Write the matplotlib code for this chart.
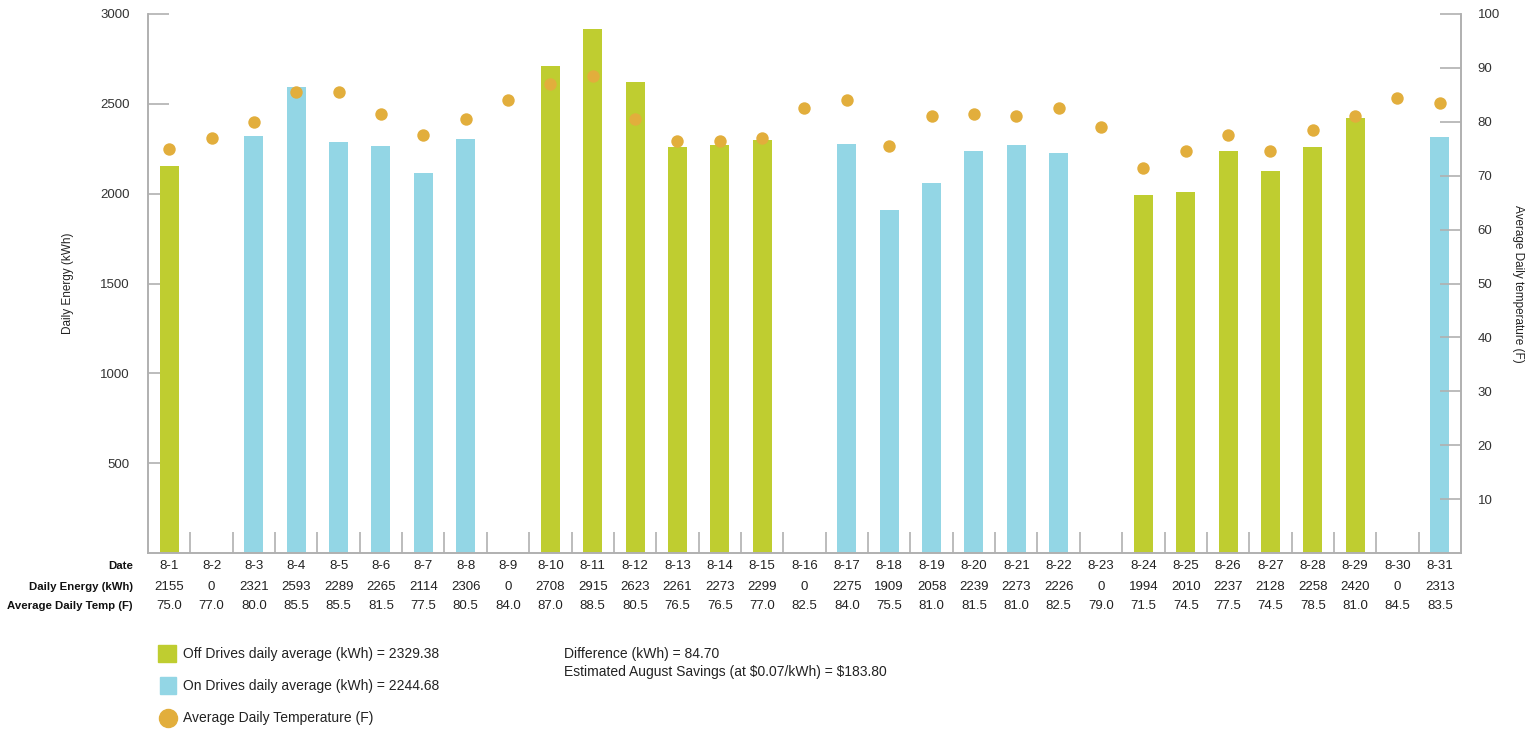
import matplotlib
matplotlib.use("Agg")
import matplotlib.pyplot as plt
from matplotlib.patches import Rectangle
from matplotlib.lines import Line2D
from matplotlib.transforms import blended_transform_factory

dates = ["8-1", "8-2", "8-3", "8-4", "8-5", "8-6", "8-7", "8-8", "8-9", "8-10",
         "8-11", "8-12", "8-13", "8-14", "8-15", "8-16", "8-17", "8-18", "8-19", "8-20",
         "8-21", "8-22", "8-23", "8-24", "8-25", "8-26", "8-27", "8-28", "8-29", "8-30", "8-31"]
energy = [2155, 0, 2321, 2593, 2289, 2265, 2114, 2306, 0, 2708,
          2915, 2623, 2261, 2273, 2299, 0, 2275, 1909, 2058, 2239,
          2273, 2226, 0, 1994, 2010, 2237, 2128, 2258, 2420, 0, 2313]
temps = [75.0, 77.0, 80.0, 85.5, 85.5, 81.5, 77.5, 80.5, 84.0, 87.0,
         88.5, 80.5, 76.5, 76.5, 77.0, 82.5, 84.0, 75.5, 81.0, 81.5,
         81.0, 82.5, 79.0, 71.5, 74.5, 77.5, 74.5, 78.5, 81.0, 84.5, 83.5]
# drive state per day: "off" (green), "on" (blue), "" (no data)
state = ["off", "", "on", "on", "on", "on", "on", "on", "", "off",
         "off", "off", "off", "off", "off", "", "on", "on", "on", "on",
         "on", "on", "", "off", "off", "off", "off", "off", "off", "", "on"]
left_ticks = [500, 1000, 1500, 2000, 2500, 3000]
right_ticks = [10, 20, 30, 40, 50, 60, 70, 80, 90, 100]
legend_labels = ["Off Drives daily average (kWh) = 2329.38",
                 "On Drives daily average (kWh) = 2244.68",
                 "Average Daily Temperature (F)"]
summary_lines = ["Difference (kWh) = 84.70",
                 "Estimated August Savings (at \\$0.07/kWh) = \\$183.80"]

GREEN = "#bfcd30"
BLUE = "#93d6e5"
ORANGE = "#e2ae3c"
GRAY = "#b0b0b0"

plt.rcParams["font.family"] = "Liberation Sans"

fig = plt.figure(figsize=(15.36, 7.29), dpi=100)
W, H = 1536, 729
ax = fig.add_axes([148 / W, 1 - 553 / H, (1461 - 148) / W, (553 - 14) / H])
ax2 = ax.twinx()

xs = list(range(len(dates)))
colors = [GREEN if s == "off" else BLUE for s in state]
ax.bar(xs, energy, width=0.45, color=colors, zorder=2)
ax.set_xlim(-0.5, len(dates) - 0.5)
ax.set_ylim(0, 3000)
ax.set_yticks(left_ticks)
ax.set_yticklabels([str(t) for t in left_ticks], fontsize=9.5, color="#333333")
ax.tick_params(axis="y", direction="in", length=15, width=1.2, color=GRAY, pad=13)
ax.set_xticks([i + 0.5 for i in range(len(dates) - 1)])
ax.set_xticklabels([])
ax.tick_params(axis="x", direction="in", length=15, width=1.2, color=GRAY)
for a in (ax, ax2):
    a.spines["top"].set_visible(False)
    for sp in ["left", "right", "bottom"]:
        a.spines[sp].set_color(GRAY)
        a.spines[sp].set_linewidth(1.2)

ax2.scatter(xs, temps, s=80, color=ORANGE, zorder=3, linewidths=0)
ax2.set_ylim(0, 100)
ax2.set_yticks(right_ticks)
ax2.set_yticklabels([str(t) for t in right_ticks], fontsize=9.5, color="#333333")
ax2.tick_params(axis="y", direction="in", length=15, width=1.2, color=GRAY, pad=12)

ax.set_ylabel("Daily Energy (kWh)", fontsize=8.5, color="#222222")
ax.yaxis.set_label_coords((74 - 148) / 1313, 0.5)
ax2.set_ylabel("Average Daily temperature (F)", fontsize=8.5, color="#222222", rotation=-90)
ax2.yaxis.set_label_coords((1524 - 148) / 1313, 0.5)

# data table below the chart
tr = blended_transform_factory(ax.transData, fig.transFigure)
row_y = [1 - 566 / H, 1 - 587 / H, 1 - 606 / H]
row_names = ["Date", "Daily Energy (kWh)", "Average Daily Temp (F)"]
for name, y in zip(row_names, row_y):
    fig.text(133 / W, y, name, ha="right", va="center", fontsize=8.2,
             fontweight="bold", color="#111111")
for i in xs:
    vals = [dates[i], str(energy[i]), f"{temps[i]:.1f}"]
    for v, y in zip(vals, row_y):
        ax.text(i, y, v, transform=tr, ha="center", va="center", fontsize=9.5,
                color="#222222", clip_on=False)

# legend
fig.add_artist(Rectangle((158 / W, 1 - 662 / H), 18 / W, 17 / H,
                         transform=fig.transFigure, color=GREEN))
fig.add_artist(Rectangle((160 / W, 1 - 694 / H), 16 / W, 17 / H,
                         transform=fig.transFigure, color=BLUE))
fig.add_artist(Line2D([168 / W], [1 - 718 / H], marker="o", markersize=13,
                      color=ORANGE, transform=fig.transFigure, linestyle="none"))
for lab, y in zip(legend_labels, [654, 686, 718]):
    fig.text(183 / W, 1 - y / H, lab, ha="left", va="center", fontsize=10,
             color="#222222")
for lab, y in zip(summary_lines, [654, 672]):
    fig.text(564 / W, 1 - y / H, lab, ha="left", va="center", fontsize=10,
             color="#222222")

fig.savefig("out.png", dpi=100)
